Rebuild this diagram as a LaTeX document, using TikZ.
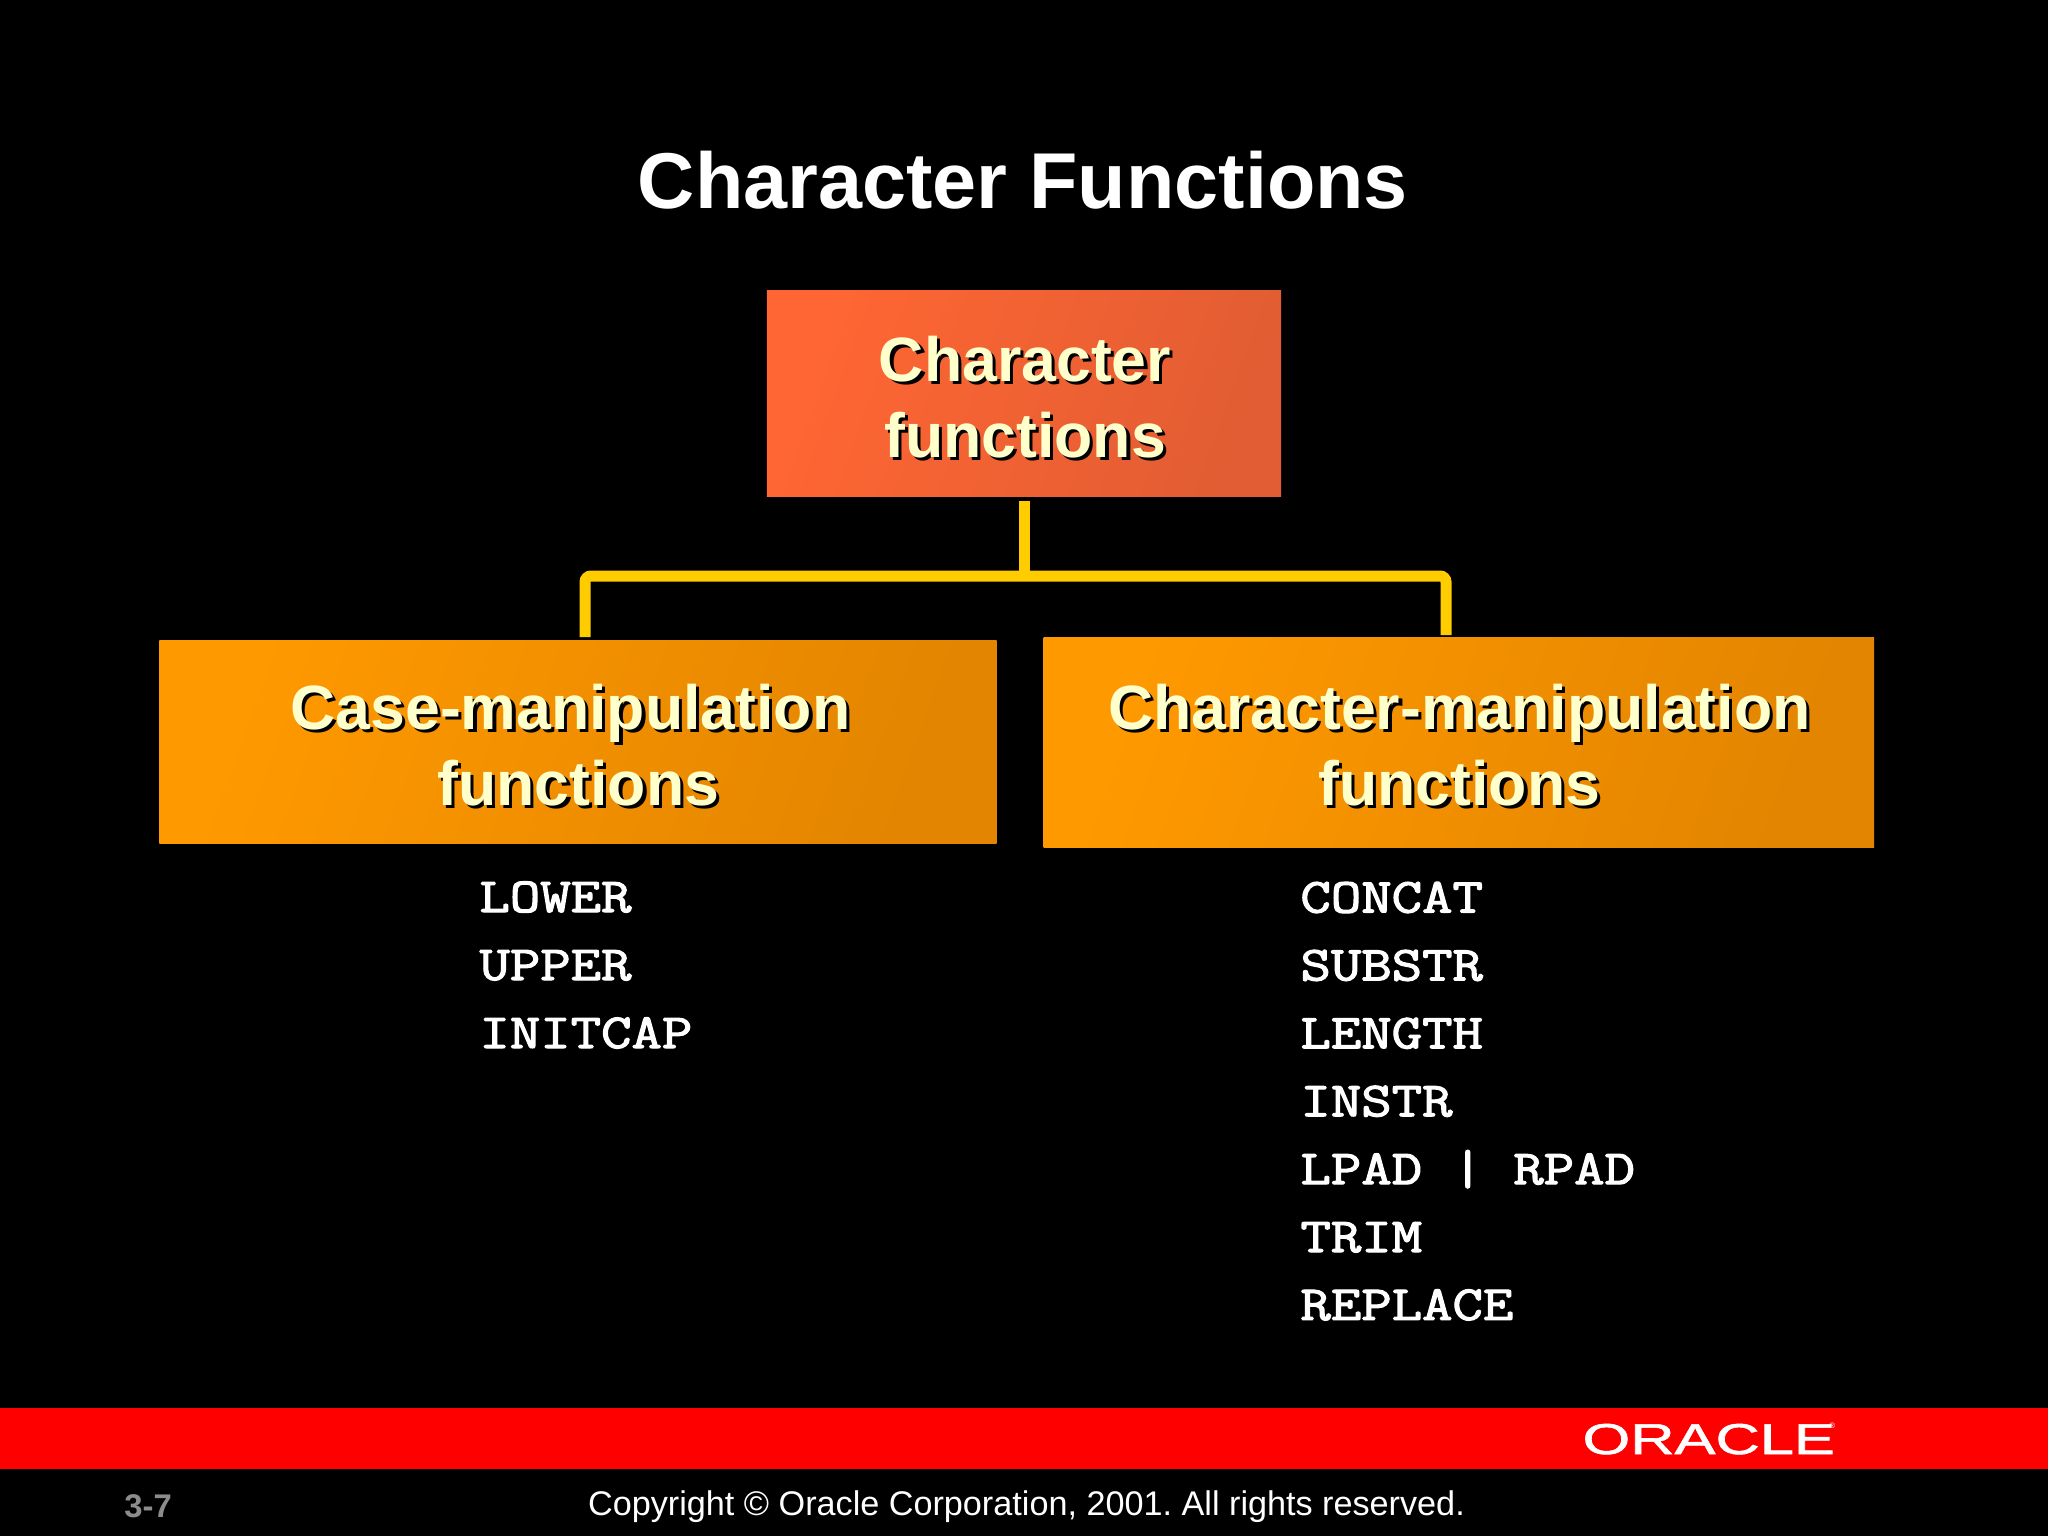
\documentclass[tikz,border=0pt]{standalone}
\usepackage{fontspec}
\setmainfont{Liberation Sans}
\newfontfamily\listfamily[FakeBold=2.2]{Latin Modern Mono}
\newfontfamily\logofamily[FakeBold=1.2]{Liberation Sans}
\usepackage{tikz}
\usetikzlibrary{calc}
\definecolor{rootlight}{HTML}{FF6633}
\definecolor{rootdark}{HTML}{E25D33}
\definecolor{kindlight}{HTML}{FF9900}
\definecolor{kinddark}{HTML}{E38500}
\definecolor{branchgold}{HTML}{FFCC00}
\definecolor{labelcream}{HTML}{FFFFCC}
\def\shadowline#1{\leavevmode\rlap{\kern1.6pt\raisebox{-1.6pt}{\color{black}#1}}#1}
\tikzset{
	boxlabel/.style={inner sep=0, align=center, text=labelcream, font=\fontsize{31.3}{38}\selectfont\bfseries},
	rootbox/.style={inner sep=0, shading=axis, left color=rootlight, right color=rootdark, shading angle=70},
	kindbox/.style={inner sep=0, shading=axis, left color=kindlight, right color=kinddark, shading angle=70},
	branch/.style={line width=5.5pt, color=branchgold, rounded corners=3pt},
	listitem/.style={anchor=base west, inner sep=0, xscale=1.205, text=white, font=\fontsize{24.5}{30}\listfamily}
}

\begin{document}
\begin{tikzpicture}[x=0.5pt, y=-0.5pt]
		%%%%% START %%%%%
		
		\fill[black] (0, 0) rectangle (2048, 1536);
		\useasboundingbox (0, 0) rectangle (2048, 1536);
		
		\node[inner sep=0, text=white, font=\fontsize{39.6}{46}\selectfont\bfseries] (title) at (1023, 180.5) {Character Functions};
		
		\node[rootbox, minimum width=257.2pt, minimum height=103.2pt] (root) at (1024, 393.3) {};
		\node[kindbox, minimum width=418.6pt, minimum height=101.8pt] (casebox) at (577.9, 741.9) {};
		\node[kindbox, minimum width=415.2pt, minimum height=105pt] (charbox) at (1458.8, 742.5) {};
		
		\node[boxlabel] (rootlabel) at (1025, 398.5) {\shadowline{Character}\\\shadowline{functions}};
		\node[boxlabel] (caselabel) at (578.4, 746.8) {\shadowline{Case-manipulation}\kern8pt\\\shadowline{functions}};
		\node[boxlabel] (charlabel) at (1459.3, 746.8) {\shadowline{Character-manipulation}\\\shadowline{functions}};
		
		\coordinate (casetap) at (585, 637);
		\coordinate (chartap) at (1446, 635);
		\coordinate (casebend) at (585, 576);
		\coordinate (charbend) at (1446, 576);
		\coordinate (midbar) at (1024, 576);
		
		\draw[branch] (casetap) -- (casebend) -- (charbend) -- (chartap);
		\draw[branch, shorten <=2pt] (root.south) -- (midbar);
		
		\foreach \itemname/\itemtext [count=\i from 0] in {lower/LOWER, upper/UPPER, initcap/INITCAP}
			\node[listitem] (\itemname) at (479, 912 + 68*\i) {\itemtext};
		
		\foreach \itemname/\itemtext [count=\i from 0] in {concat/CONCAT, substr/SUBSTR, lengthfn/LENGTH, instr/INSTR, padfn/{LPAD | RPAD}, trimfn/TRIM, replacefn/REPLACE}
			\node[listitem] (\itemname) at (1300, 912.5 + 67.9*\i) {\itemtext};
		
		\fill[red] (0, 1408) rectangle (2048, 1468.5);
		\node[anchor=base west, inner sep=0, xscale=1.42, text=white, font=\fontsize{21.6}{24}\logofamily] (logo) at (1582, 1454) {ORACLE};
		\node[anchor=base west, inner sep=0, text=white, font=\fontsize{4}{5}\selectfont] (logomark) at (1829, 1428) {®};
		
		\node[anchor=base, inner sep=0, text=white, font=\fontsize{17.1}{20}\selectfont\frenchspacing] (copyright) at (1026.5, 1515) {Copyright © Oracle Corporation, 2001. All rights reserved.};
		\node[anchor=base west, inner sep=0, text=black!45, font=\fontsize{16.4}{20}\selectfont\bfseries] (pageno) at (124, 1517) {3-7};
		
		%%%%% END %%%%%
	\end{tikzpicture}
\end{document}
